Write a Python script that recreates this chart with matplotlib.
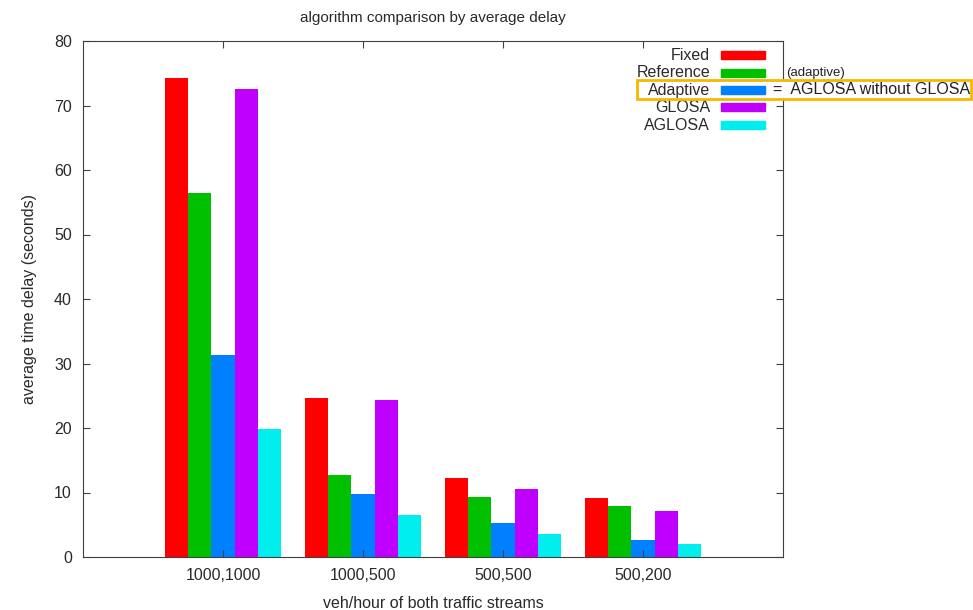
import numpy as np
import matplotlib.pyplot as plt
from matplotlib.patches import Rectangle

plt.rcParams['font.family'] = ['Liberation Sans', 'DejaVu Sans']

groups = ['1000,1000', '1000,500', '500,500', '500,200']
algos = ['Fixed', 'Reference', 'Adaptive', 'GLOSA', 'AGLOSA']
colors = ['#ff0000', '#00c000', '#0080ff', '#c000ff', '#00eeee']

fixed = [74.2, 24.7, 12.2, 9.2]
reference = [56.4, 12.7, 9.3, 7.9]
adaptive = [31.3, 9.7, 5.2, 2.7]
glosa = [72.5, 24.4, 10.6, 7.1]
aglosa = [19.8, 6.5, 3.6, 2.0]
series = [fixed, reference, adaptive, glosa, aglosa]

txt = '#2a2a2a'
fs = 11.5
fig = plt.figure(figsize=(9.73, 6.10), dpi=100)
ax = fig.add_axes([83/973, 53/610, 700/973, 516/610])

x = np.arange(len(groups))
w = 1/6
for i, (vals, c) in enumerate(zip(series, colors)):
    ax.bar(x + (i - 2) * w, vals, w, color=c, edgecolor='none', label=algos[i])

ax.set_xlim(-1, 4)
ax.set_ylim(0, 80)
ax.set_yticks(range(0, 81, 10))
ax.set_xticks(x)
ax.set_xticklabels(groups)
ax.tick_params(direction='in', top=True, right=True, length=5, width=0.8,
               colors='#404040', labelcolor=txt, labelsize=fs, pad=8)
for s in ax.spines.values():
    s.set_color('#404040')
    s.set_linewidth(0.8)

ax.set_title('algorithm comparison by average delay', fontsize=11, color=txt, pad=14)
ax.set_xlabel('veh/hour of both traffic streams', fontsize=fs, color=txt, labelpad=9)
ax.set_ylabel('average time delay (seconds)', fontsize=fs, color=txt, labelpad=12)

# gnuplot style key: label right aligned, then colour swatch
for i, (name, c) in enumerate(zip(algos, colors)):
    yy = 610 - (55 + i * 17.5)
    fig.text(710/973, yy/610, name, ha='right', va='center', fontsize=fs, color=txt)
    fig.patches.append(Rectangle((721/973, (yy - 4)/610), 44/973, 8/610,
                                 transform=fig.transFigure, color=c, figure=fig))

fig.text(786/973, (610-73)/610, '(adaptive)', ha='left', va='center', fontsize=9.5, color='#222222')
fig.text(773/973, (610-90)/610, '=  AGLOSA without GLOSA', ha='left', va='center',
         fontsize=fs, color='#222222',
         bbox=dict(facecolor='white', edgecolor='none', pad=1.5))
fig.patches.append(Rectangle((637/973, (610-99)/610), 334/973, 19/610, transform=fig.transFigure,
                             fill=False, edgecolor='#f5b800', linewidth=2, figure=fig, zorder=5))

fig.savefig('out.png', dpi=100)
